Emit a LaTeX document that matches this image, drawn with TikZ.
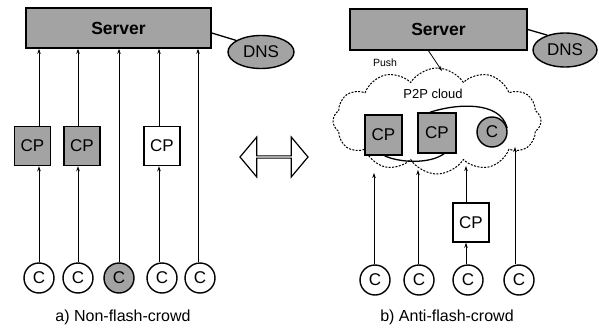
\documentclass[tikz,border=0pt]{standalone}
\usepackage{fontspec}
\setmainfont{Liberation Sans}
\usetikzlibrary{arrows.meta,shapes.geometric,shapes.symbols,shapes.arrows,calc}

\tikzset{
  shade/.style={fill=black!36},
  srv/.style={draw, line width=1.6pt, shade, inner sep=0pt,
    font=\fontsize{17.5}{17.5}\selectfont\bfseries},
  dns/.style={ellipse, draw, line width=1.4pt, shade, inner sep=0pt,
    font=\fontsize{17}{17}\selectfont},
  cpbox/.style={draw, line width=1.5pt, inner sep=0pt,
    minimum width=36pt, minimum height=39pt,
    font=\fontsize{17}{17}\selectfont},
  gcp/.style={cpbox, shade},
  client/.style={circle, draw, line width=1.4pt, inner sep=0pt,
    minimum size=30pt, font=\fontsize{17}{17}\selectfont},
  gclient/.style={client, shade},
  link/.style={line width=0.8pt, -{Stealth[length=5pt,width=3.5pt]}},
  tie/.style={line width=1.3pt},
  caption/.style={font=\fontsize{16}{16}\selectfont}
}

\begin{document}
\begin{tikzpicture}[x=1pt, y=-1pt]
\useasboundingbox (0,0) rectangle (599,329);

% ---------- a) Non-flash-crowd ----------
\node[srv, minimum width=185pt, minimum height=40pt] (srvL) at (118.5,28) {Server};
\node[dns, minimum width=66pt, minimum height=33pt] (dnsL) at (261,52) {DNS};
\draw[tie] ([yshift=-5pt]srvL.east) -- (dnsL.155);

\node[gcp] (cpA) at (32.5,146) {CP};
\node[gcp] (cpB) at (82,146) {CP};
\node[cpbox] (cpC) at (162,146) {CP};

\node[client]  (cA) at (39,278)  {C};
\node[client]  (cB) at (78,278)  {C};
\node[gclient] (cC) at (119,278) {C};
\node[client]  (cD) at (162,278) {C};
\node[client]  (cE) at (200,278) {C};

\draw[link] (cA.north) -- (cA.north |- cpA.south);
\draw[link] (cA.north |- cpA.north) -- (cA.north |- srvL.south);
\draw[link] (cB.north) -- (cB.north |- cpB.south);
\draw[link] (cB.north |- cpB.north) -- (cB.north |- srvL.south);
\draw[link] (cC.north) -- (cC.north |- srvL.south);
\draw[link] ([xshift=-3pt]cD.north) -- ([xshift=-3pt]cD.north |- cpC.south);
\draw[link] ([xshift=-3pt]cD.north |- cpC.north) -- ([xshift=-3pt]cD.north |- srvL.south);
\draw[link] ([xshift=-2pt]cE.north) -- ([xshift=-2pt]cE.north |- srvL.south);

\node[caption] (capA) at (123,317) {a) Non-flash-crowd};

% ---------- exchange arrow ----------
\node[double arrow, draw, line width=1.2pt, inner sep=0pt,
  minimum height=68pt, minimum width=40pt,
  double arrow head extend=10pt, double arrow tip angle=100] (swap) at (274,157) {};

% ---------- b) Anti-flash-crowd ----------
\node[srv, minimum width=177pt, minimum height=41pt] (srvR) at (438.5,29.5) {Server};
\node[dns, minimum width=64pt, minimum height=34pt] (dnsR) at (565,50) {DNS};
\draw[tie] (srvR.east) -- (dnsR.140);

\node[cloud, draw, dash pattern=on 2pt off 1.4pt, line width=1pt,
  cloud puffs=12, cloud puff arc=115, aspect=2.0,
  minimum width=208pt, minimum height=106pt, inner sep=0pt] (p2p) at (437,121) {};
\node[font=\fontsize{13}{13}\selectfont] (p2pLabel) at (433,94) {P2P cloud};

\node[font=\fontsize{10.5}{10.5}\selectfont] (pushLabel) at (385,63) {Push};
\coordinate (pushEnd) at (442,71);
\draw[link] ([xshift=-10pt]srvR.south) -- (pushEnd);

\node[gcp, minimum width=37pt, minimum height=40pt] (cp1) at (383.5,135) {CP};
\node[gcp, minimum width=38pt, minimum height=40pt] (cp2) at (437,133) {CP};
\node[gclient] (cc) at (492,132) {C};

% ties between peers inside the cloud
\draw[tie] ([xshift=-7pt]cp2.north) .. controls (455,104) and (500,100) .. (cc.15);
\draw[tie] ([xshift=1pt]cp1.south) .. controls (400,163) and (430,164) .. ([xshift=7pt]cp2.south);

\node[client] (d1) at (375,280) {C};
\node[client] (d2) at (419,280) {C};
\node[client] (d3) at (468,280) {C};
\node[client] (d4) at (519,280) {C};
\node[cpbox] (cp3) at (471,222.5) {CP};

\coordinate (t1) at (374,173);
\coordinate (t2) at (418,170);
\coordinate (t3) at (466,166);
\coordinate (t4) at (515,147);

\draw[link] ([xshift=-1pt]d1.north) -- (t1);
\draw[link] ([xshift=-1pt]d2.north) -- (t2);
\draw[link] ([xshift=-2pt]d3.north) -- ([xshift=-2pt]d3.north |- cp3.south);
\draw[link] ([xshift=-2pt]d3.north |- cp3.north) -- (t3);
\draw[link] ([xshift=-4pt]d4.north) -- (t4);

\node[caption] (capB) at (447,317) {b) Anti-flash-crowd};
\end{tikzpicture}
\end{document}
